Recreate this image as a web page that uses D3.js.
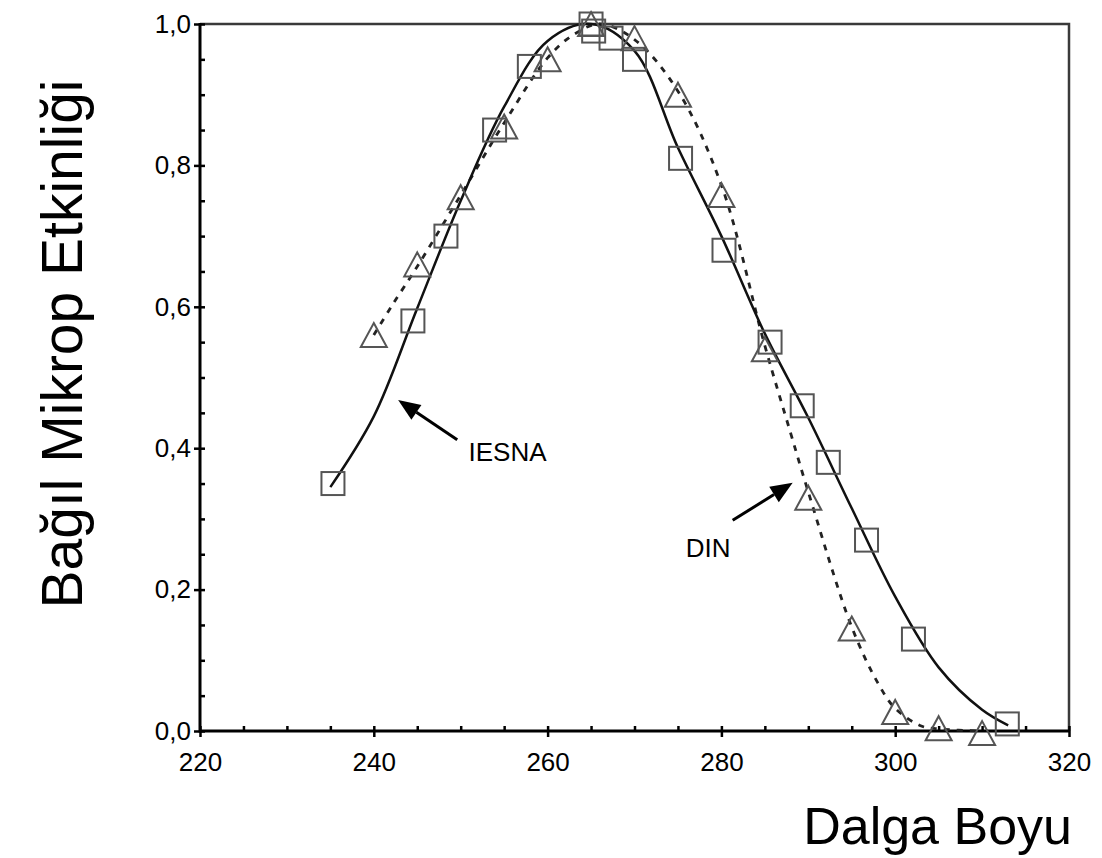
<!DOCTYPE html>
<html>
<head>
<meta charset="utf-8">
<style>
    body { margin: 0; background: white; }
    svg { font-family: 'Liberation Sans', Arial, sans-serif; }
</style>
</head>
<body>
<svg width="1102" height="858"></svg>

<script src="https://d3js.org/d3.v7.min.js"></script>
<script>
    // IESNA curve (solid) and its measured points (squares)
    let iesnaCurveX = [235, 240, 245, 250, 255, 260, 265, 270, 275, 280, 285, 290, 295, 300, 305, 310, 313]
    let iesnaCurveY = [0.345, 0.445, 0.598, 0.75, 0.883, 0.976, 1.0, 0.962, 0.825, 0.70, 0.562, 0.443, 0.315, 0.19, 0.09, 0.03, 0.008]
    let iesnaPointX = [235.3, 244.5, 248.3, 253.9, 257.9, 265, 265.3, 267.3, 270, 275.3, 280.3, 285.6, 289.3, 292.3, 296.7, 302.1, 312.9]
    let iesnaPointY = [0.35, 0.58, 0.70, 0.85, 0.94, 1.0, 0.99, 0.98, 0.95, 0.81, 0.68, 0.55, 0.46, 0.38, 0.27, 0.13, 0.01]

    // DIN curve (dashed) and its measured points (triangles)
    let dinCurveX = [240, 242, 245, 250, 255, 260, 263, 266, 270, 275, 280, 285, 288, 290, 295, 298, 300, 303, 305, 310]
    let dinCurveY = [0.56, 0.60, 0.657, 0.758, 0.86, 0.952, 0.985, 1.0, 0.978, 0.905, 0.772, 0.545, 0.42, 0.338, 0.147, 0.068, 0.032, 0.007, 0.003, 0.0]
    let dinPointX = [240, 245, 250, 255, 260, 265, 270, 275, 280, 285, 290, 295, 300, 305, 310]
    let dinPointY = [0.56, 0.66, 0.755, 0.855, 0.95, 1.0, 0.98, 0.90, 0.758, 0.54, 0.33, 0.145, 0.027, 0.004, -0.003]

    let xMajor = [220, 240, 260, 280, 300, 320]
    let xMinor = d3.range(220, 321, 5)
    let yMajor = [0, 0.2, 0.4, 0.6, 0.8, 1.0]
    let yMinor = d3.range(0, 1.001, 0.05)
    let yTickLabels = ["0,0", "0,2", "0,4", "0,6", "0,8", "1,0"]

    let svg = d3.select("svg")
    let plotLeft = 200, plotRight = 1069, plotTop = 24, plotBottom = 731

    let x = d3.scaleLinear().domain([220, 320]).range([plotLeft, plotRight])
    let y = d3.scaleLinear().domain([0, 1]).range([plotBottom, plotTop])

    // frame (top / right thinner, grey)
    svg.append("path")
        .attr("d", `M${plotLeft},${plotTop}H${plotRight}V${plotBottom}`)
        .attr("fill", "none")
        .attr("stroke", "#3a3a3a")
        .attr("stroke-width", 2.5)

    // x axis: outward major ticks with labels, inward minor ticks
    let gx = svg.append("g").attr("transform", `translate(0,${plotBottom})`)
    gx.call(d3.axisBottom(x).tickValues(xMajor).tickSize(6).tickPadding(16).tickFormat(d3.format("d")))
    gx.append("g").call(d3.axisBottom(x).tickValues(xMinor).tickSize(-5).tickFormat(""))
    gx.selectAll(".domain").remove()
    gx.selectAll("line").attr("stroke", "black").attr("stroke-width", 2.5)
    gx.selectAll("text").attr("font-size", 26).attr("fill", "black").attr("font-family", "'Liberation Sans', Arial, sans-serif")

    // y axis
    let gy = svg.append("g").attr("transform", `translate(${plotLeft},0)`)
    gy.call(d3.axisLeft(y).tickValues(yMajor).tickSize(6).tickPadding(3).tickFormat((d, i) => yTickLabels[i]))
    gy.append("g").call(d3.axisLeft(y).tickValues(yMinor).tickSize(-5).tickFormat(""))
    gy.selectAll(".domain").remove()
    gy.selectAll("line").attr("stroke", "black").attr("stroke-width", 2.5)
    gy.selectAll("text").attr("font-size", 26).attr("fill", "black").attr("font-family", "'Liberation Sans', Arial, sans-serif")

    // axis lines
    svg.append("path")
        .attr("d", `M${plotLeft},${plotTop - 1}V${plotBottom}H${plotRight}`)
        .attr("fill", "none")
        .attr("stroke", "black")
        .attr("stroke-width", 3)

    let line = d3.line()
        .x(d => x(d[0]))
        .y(d => y(d[1]))
        .curve(d3.curveCatmullRom)

    svg.append("path")
        .datum(d3.zip(dinCurveX, dinCurveY))
        .attr("d", line)
        .attr("fill", "none")
        .attr("stroke", "#222")
        .attr("stroke-width", 2.8)
        .attr("stroke-dasharray", "6,7")

    svg.append("path")
        .datum(d3.zip(iesnaCurveX, iesnaCurveY))
        .attr("d", line)
        .attr("fill", "none")
        .attr("stroke", "#111")
        .attr("stroke-width", 2.5)

    // squares
    svg.append("g")
        .selectAll("rect")
        .data(d3.zip(iesnaPointX, iesnaPointY))
        .join("rect")
        .attr("x", d => x(d[0]) - 11.5)
        .attr("y", d => y(d[1]) - 11.5)
        .attr("width", 23)
        .attr("height", 23)
        .attr("fill", "none")
        .attr("stroke", "#555")
        .attr("stroke-width", 2)

    // triangles
    svg.append("g")
        .selectAll("path")
        .data(d3.zip(dinPointX, dinPointY))
        .join("path")
        .attr("d", "M0,-12L13,12L-13,12Z")
        .attr("transform", d => `translate(${x(d[0])},${y(d[1])})`)
        .attr("fill", "none")
        .attr("stroke", "#555")
        .attr("stroke-width", 2)
        .attr("stroke-linejoin", "miter")

    // annotations
    function arrow(x1, y1, x2, y2) {
        let px1 = x(x1), py1 = y(y1), px2 = x(x2), py2 = y(y2)
        let a = Math.atan2(py2 - py1, px2 - px1)
        let len = 22, w = 9
        let bx = px2 - len * Math.cos(a), by = py2 - len * Math.sin(a)
        svg.append("line")
            .attr("x1", px1).attr("y1", py1)
            .attr("x2", bx).attr("y2", by)
            .attr("stroke", "black")
            .attr("stroke-width", 3)
        svg.append("path")
            .attr("d", `M${px2},${py2}L${bx + w * Math.sin(a)},${by - w * Math.cos(a)}L${bx - w * Math.sin(a)},${by + w * Math.cos(a)}Z`)
            .attr("fill", "black")
    }

    arrow(249.6, 0.412, 242.8, 0.468)
    arrow(281.3, 0.298, 288.2, 0.351)

    svg.append("text")
        .attr("x", x(250.9))
        .attr("y", y(0.382))
        .attr("font-size", 26)
        .text("IESNA")

    svg.append("text")
        .attr("x", x(275.9))
        .attr("y", y(0.246))
        .attr("font-size", 26)
        .text("DIN")

    // axis titles
    svg.append("text")
        .attr("transform", "translate(82,344) rotate(-90)")
        .attr("text-anchor", "middle")
        .attr("font-size", 57)
        .text("Bağıl Mikrop Etkinliği")

    svg.append("text")
        .attr("x", 1072)
        .attr("y", 844)
        .attr("text-anchor", "end")
        .attr("font-size", 52)
        .text("Dalga Boyu")
</script>
</body>
</html>
